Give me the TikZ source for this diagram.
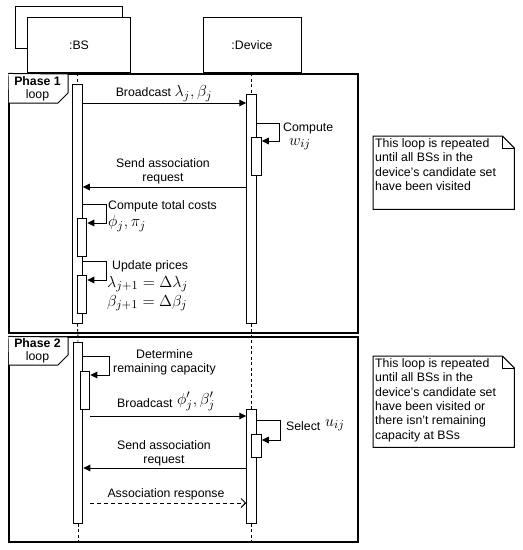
\documentclass[tikz,border=0pt]{standalone}
\usepackage{graphicx}
\usepackage{fontspec}
\setmainfont{Liberation Sans}
\usetikzlibrary{arrows.meta}
\newcommand\mth[1]{\scalebox{1.33}{$#1$}}
\begin{document}
\begin{tikzpicture}[x=1pt,y=-1pt,
  font=\fontsize{12.3}{14.3}\selectfont,
  hdbox/.style={draw, fill=white, line width=1pt, inner sep=0pt},
  act/.style={draw, fill=white, line width=1pt, minimum width=9.5pt, inner sep=0pt},
  frame/.style={draw, line width=1.1pt, inner sep=0pt},
  life/.style={line width=0.9pt, dash pattern=on 3pt off 2.5pt},
  msg/.style={line width=1pt, -{Triangle[length=7pt,width=6.5pt]}},
  reply/.style={line width=1pt, dash pattern=on 4pt off 3pt, -{Straight Barb[length=4.5pt,width=9pt]}},
  lbl/.style={inner sep=0pt, align=center},
  lbll/.style={inner sep=0pt, align=left, anchor=west},
  notebox/.style={inner sep=0pt, anchor=north west},
  notetext/.style={inner sep=0pt, anchor=north west, align=left},
]
\useasboundingbox (0,0) rectangle (523,550);
\fill[white] (0,0) rectangle (523,550);

% frames
\node[frame, minimum width=349pt, minimum height=259pt] (f1) at (183.5,203.5) {};
\node[frame, minimum width=349pt, minimum height=205pt] (f2) at (183.5,439.5) {};
\draw[line width=1pt, fill=white] (f1.north west) -- (68,74) -- (68,93) -- (58,103) -- (9,103);
\draw[line width=1pt, fill=white] (f2.north west) -- (68,337) -- (68,355) -- (58,365) -- (9,365);
\node[lbl] (p1) at (37.5,88.5) {\textbf{Phase 1}\\[-1.5pt]loop};
\node[lbl] (p2) at (37.5,351) {\textbf{Phase 2}\\[-1.5pt]loop};

% headers
\node[hdbox, minimum width=107pt, minimum height=42pt, anchor=north west] (bsback) at (15,6) {};
\node[hdbox, minimum width=103pt, minimum height=55pt, anchor=north west] (bs) at (27,17) {:BS};
\node[hdbox, minimum width=98pt, minimum height=55pt, anchor=north west] (dev) at (202.5,17) {:Device};

% activations
\node[act, minimum height=239pt] (a1) at (77.5,203.5) {};
\node[act, minimum height=229pt] (d1) at (251.5,208.5) {};
\node[act, minimum height=181pt] (a2) at (78,432.5) {};
\node[act, minimum height=114pt] (d2) at (251.5,466) {};

\coordinate (bsend) at (78,542);
\coordinate (devend) at (251.5,542);
\draw[life] (bs.south -| a1.center) -- (a1.north);
\draw[life] (a1.south) -- (a2.north);
\draw[life] (a2.south) -- (bsend);
\draw[life] (dev.south -| d1.center) -- (d1.north);
\draw[life] (d1.south) -- (d2.north);
\draw[life] (d2.south) -- (devend);

\node[act, minimum height=38pt] (d1n) at (256.5,156) {};
\node[act, minimum height=38pt] (a1c) at (82,237) {};
\node[act, minimum height=38pt] (a1u) at (82,294) {};
\node[act, minimum height=38pt] (a2d) at (85,390) {};
\node[act, minimum height=23pt] (d2s) at (256.5,445.5) {};

% Phase 1 messages
\draw[msg] (a1.east |- 0,103) -- (d1.west |- 0,103);
\node[lbl] (t1) at (164,93.5) {Broadcast \mth{\lambda_j, \beta_j}};

\draw[msg] (d1.east |- 0,123) -- (279,123) -- (279,141) -- (d1n.east |- 0,141);
\node[lbll] (t2) at (283,128) {Compute};
\node[lbl] (t2b) at (300,144.5) {\mth{w_{ij}}};

\draw[msg] (d1.west |- 0,187) -- (a1.east |- 0,187);
\node[lbl] (t3) at (163,171) {Send association\\request};

\draw[msg] (a1.east |- 0,204) -- (106,204) -- (106,223) -- (a1c.east |- 0,223);
\node[lbll] (t4) at (108,206) {Compute total costs};
\node[lbll] (t4b) at (108,223.5) {\mth{\phi_j, \pi_j}};

\draw[msg] (a1.east |- 0,261) -- (106,261) -- (106,280) -- (a1u.east |- 0,280);
\node[lbll] (t5) at (112,266) {Update prices};
\node[lbll] (t5b) at (107,284) {\mth{\lambda_{j+1} = \Delta\lambda_j}};
\node[lbll] (t5c) at (107,303) {\mth{\beta_{j+1} = \Delta\beta_j}};

% Phase 2 messages
\draw[msg] (a2.east |- 0,356) -- (109,356) -- (109,375) -- (a2d.east |- 0,375);
\node[lbl] (t6) at (164.5,362.5) {Determine\\remaining capacity};

\draw[msg] (a2d.east |- 0,416) -- (d2.west |- 0,416);
\node[lbll] (t7) at (117,403) {Broadcast};
\node[lbll] (t7b) at (177,401.5) {\mth{\phi'_j, \beta'_j}};

\draw[msg] (d2.east |- 0,420) -- (280,420) -- (280,440) -- (d2s.east |- 0,440);
\node[lbll] (t8) at (286,426) {Select};
\node[lbll] (t8b) at (325,425) {\mth{u_{ij}}};

\draw[msg] (d2.west |- 0,468) -- (a2.east |- 0,468);
\node[lbl] (t9) at (164,453.5) {Send association\\request};

\draw[reply] (a2d.east |- 0,503) -- (d2.west |- 0,503);
\node[lbl] (t10) at (166,494) {Association response};

% notes
\node[notebox, minimum width=141pt, minimum height=73pt] (n1) at (373,136) {};
\draw[line width=1pt] (n1.north west) -- ([xshift=-12pt]n1.north east) -- ([yshift=-12pt]n1.north east) -- (n1.south east) -- (n1.south west) -- cycle;
\draw[line width=0.6pt] ([xshift=-12pt]n1.north east) -- ([xshift=-12pt,yshift=-12pt]n1.north east) -- ([yshift=-12pt]n1.north east);
\node[notetext] (n1t) at (375,138.5) {This loop is repeated\\until all BSs in the\\device's candidate set\\have been visited};

\node[notebox, minimum width=141pt, minimum height=91pt] (n2) at (373,356) {};
\draw[line width=1pt] (n2.north west) -- ([xshift=-12pt]n2.north east) -- ([yshift=-12pt]n2.north east) -- (n2.south east) -- (n2.south west) -- cycle;
\draw[line width=0.6pt] ([xshift=-12pt]n2.north east) -- ([xshift=-12pt,yshift=-12pt]n2.north east) -- ([yshift=-12pt]n2.north east);
\node[notetext] (n2t) at (375,358.5) {This loop is repeated\\until all BSs in the\\device's candidate set\\have been visited or\\there isn't remaining\\capacity at BSs};
\end{tikzpicture}
\end{document}
